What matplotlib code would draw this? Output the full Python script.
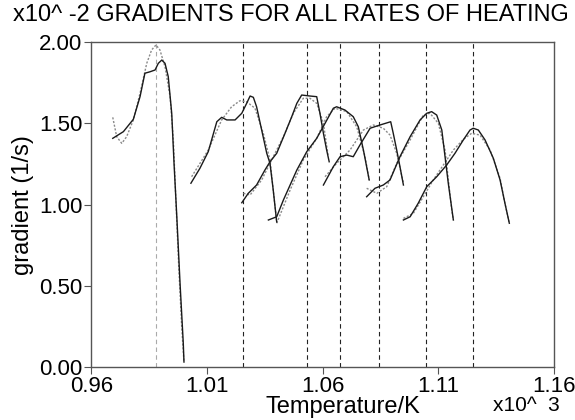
import matplotlib
matplotlib.use("Agg")
import matplotlib.pyplot as plt

plt.rcParams['font.family'] = ['Liberation Sans', 'DejaVu Sans']

# temperatures in units of 10^3 K, gradients in units of 10^-2 1/s
# each rate of heating: measured curve (solid) and fitted curve (dotted)
t1_meas = [0.9692, 0.9738, 0.9781, 0.9810, 0.9831, 0.9853, 0.9875, 0.9889, 0.9904,
           0.9918, 0.9932, 0.9947, 0.9957, 0.9969, 0.9983, 0.9997, 1.0000]
g1_meas = [1.408, 1.449, 1.525, 1.664, 1.808, 1.817, 1.828, 1.869, 1.889,
           1.869, 1.787, 1.562, 1.254, 0.926, 0.517, 0.148, 0.033]
t1_fit = [0.9692, 0.9709, 0.9731, 0.9752, 0.9781, 0.9810, 0.9839, 0.9860, 0.9879,
          0.9896, 0.9918, 0.9940, 0.9954, 0.9965, 0.9978, 0.9991, 1.0000]
g1_fit = [1.537, 1.418, 1.377, 1.418, 1.521, 1.685, 1.869, 1.951, 1.982,
          1.951, 1.848, 1.664, 1.398, 1.029, 0.599, 0.230, 0.033]

t2_meas = [1.0030, 1.0069, 1.0105, 1.0142, 1.0163, 1.0185, 1.0221, 1.0250, 1.0271,
           1.0286, 1.0300, 1.0314, 1.0336, 1.0358, 1.0372, 1.0386, 1.0401]
g2_meas = [1.132, 1.224, 1.326, 1.510, 1.537, 1.521, 1.521, 1.562, 1.623,
           1.668, 1.660, 1.602, 1.459, 1.316, 1.254, 1.090, 0.894]
t2_fit = [1.0033, 1.0105, 1.0163, 1.0206, 1.0242, 1.0271, 1.0307, 1.0343, 1.0372,
          1.0386, 1.0401]
g2_fit = [1.172, 1.336, 1.521, 1.602, 1.639, 1.633, 1.593, 1.439, 1.275,
          1.090, 0.894]

t3_meas = [1.0250, 1.0278, 1.0314, 1.0350, 1.0372, 1.0401, 1.0437, 1.0466, 1.0488,
           1.0509, 1.0545, 1.0574, 1.0588, 1.0603, 1.0617, 1.0628]
g3_meas = [1.012, 1.070, 1.121, 1.213, 1.264, 1.316, 1.439, 1.541, 1.623,
           1.674, 1.668, 1.664, 1.562, 1.439, 1.336, 1.264]
t3_fit = [1.0257, 1.0286, 1.0336, 1.0379, 1.0430, 1.0473, 1.0516, 1.0545, 1.0574,
          1.0603, 1.0624]
g3_fit = [1.070, 1.060, 1.152, 1.275, 1.418, 1.562, 1.654, 1.654, 1.623,
          1.500, 1.295]

t4_meas = [1.0365, 1.0401, 1.0430, 1.0488, 1.0531, 1.0574, 1.0610, 1.0646, 1.0660,
           1.0696, 1.0732, 1.0754, 1.0776, 1.0801]
g4_meas = [0.906, 0.926, 1.029, 1.213, 1.326, 1.408, 1.500, 1.593, 1.602,
           1.582, 1.541, 1.479, 1.336, 1.152]
t4_fit = [1.0401, 1.0459, 1.0516, 1.0574, 1.0617, 1.0653, 1.0704, 1.0747, 1.0783,
          1.0801]
g4_fit = [0.886, 1.090, 1.275, 1.408, 1.541, 1.593, 1.572, 1.479, 1.295, 1.152]

t5_meas = [1.0603, 1.0646, 1.0675, 1.0704, 1.0732, 1.0761, 1.0805, 1.0848, 1.0894,
           1.0905, 1.0920, 1.0934, 1.0949]
g5_meas = [1.121, 1.234, 1.295, 1.305, 1.295, 1.367, 1.470, 1.490, 1.510,
           1.439, 1.336, 1.234, 1.121]
t5_fit = [1.0610, 1.0660, 1.0718, 1.0776, 1.0819, 1.0862, 1.0891, 1.0920, 1.0949]
g5_fit = [1.172, 1.254, 1.336, 1.459, 1.490, 1.470, 1.428, 1.316, 1.132]

t6_meas = [1.0790, 1.0826, 1.0862, 1.0891, 1.0934, 1.0978, 1.1021, 1.1050, 1.1071,
           1.1093, 1.1115, 1.1129, 1.1143, 1.1165]
g6_meas = [1.049, 1.101, 1.121, 1.152, 1.295, 1.418, 1.521, 1.562, 1.572,
           1.551, 1.459, 1.295, 1.132, 0.906]
t6_fit = [1.0790, 1.0834, 1.0877, 1.0920, 1.0978, 1.1035, 1.1064, 1.1100, 1.1129,
          1.1158, 1.1165]
g6_fit = [1.101, 1.070, 1.111, 1.254, 1.398, 1.551, 1.562, 1.500, 1.336,
          0.967, 0.906]

t7_meas = [1.0949, 1.0978, 1.1013, 1.1050, 1.1093, 1.1136, 1.1172, 1.1208, 1.1237,
           1.1251, 1.1273, 1.1302, 1.1338, 1.1367, 1.1388, 1.1407]
g7_meas = [0.906, 0.926, 1.009, 1.111, 1.172, 1.244, 1.316, 1.398, 1.459,
           1.470, 1.459, 1.398, 1.285, 1.152, 1.009, 0.886]
t7_fit = [1.0949, 1.0992, 1.1035, 1.1078, 1.1107, 1.1165, 1.1208, 1.1244, 1.1280,
          1.1324, 1.1367, 1.1388, 1.1407]
g7_fit = [0.916, 0.947, 1.049, 1.152, 1.213, 1.336, 1.402, 1.439, 1.428,
          1.336, 1.162, 1.009, 0.886]

# temperatures of the fitted peaks (vertical markers)
peak_temps = [0.9879, 1.0257, 1.0534, 1.0675, 1.0842, 1.1045, 1.1251]

x_ticks = [0.96, 1.01, 1.06, 1.11, 1.16]
y_ticks = [0.0, 0.5, 1.0, 1.5, 2.0]

measured = [(t1_meas, g1_meas), (t2_meas, g2_meas), (t3_meas, g3_meas), (t4_meas, g4_meas),
            (t5_meas, g5_meas), (t6_meas, g6_meas), (t7_meas, g7_meas)]
fitted = [(t1_fit, g1_fit), (t2_fit, g2_fit), (t3_fit, g3_fit), (t4_fit, g4_fit),
          (t5_fit, g5_fit), (t6_fit, g6_fit), (t7_fit, g7_fit)]

fig = plt.figure(figsize=(5.75, 4.2), dpi=100)
ax = fig.add_axes([0.1591, 0.1252, 0.8043, 0.7748])

for i, t in enumerate(peak_temps):
    ax.axvline(t, color='#aaaaaa' if i == 0 else '#222222', lw=0.8,
               linestyle=(0, (4, 3)), zorder=1)

for t, g in fitted:
    ax.plot(t, g, color='#8a8a8a', lw=1.0, linestyle=(0, (1.5, 1.2)), zorder=2)
for t, g in measured:
    ax.plot(t, g, color='#1a1a1a', lw=1.0, zorder=3)

ax.set_xlim(0.96, 1.16)
ax.set_ylim(0.0, 2.0)
ax.set_xticks(x_ticks)
ax.set_yticks(y_ticks)
ax.set_xticklabels(['%.2f' % v for v in x_ticks])
ax.set_yticklabels(['%.2f' % v for v in y_ticks])
ax.tick_params(direction='out', length=5, width=0.8, color='#555555',
               labelsize=16, pad=1.5)
for s in ax.spines.values():
    s.set_color('#555555')
    s.set_linewidth(1.0)

ax.set_ylabel('gradient (1/s)', fontsize=17, labelpad=4)
fig.text(343 / 575, 1 - 413 / 420, 'Temperature/K', fontsize=17,
         ha='center', va='baseline')
fig.text(560 / 575, 1 - 411 / 420, 'x10^  3', fontsize=15,
         ha='right', va='baseline')
fig.text(13 / 575, 1 - 21 / 420, 'x10^ -2 GRADIENTS FOR ALL RATES OF HEATING',
         fontsize=17, ha='left', va='baseline')

fig.savefig('out.png', dpi=100)
